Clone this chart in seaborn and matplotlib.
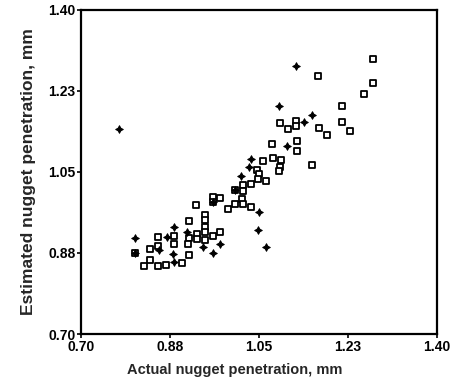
import matplotlib
matplotlib.use("Agg")
import matplotlib.pyplot as plt
import seaborn as sns
import pandas as pd

# open squares
sq_actual = [1.274, 1.166, 1.274, 1.256, 1.213, 1.213, 1.229, 1.091, 1.107, 1.123,
             1.122, 1.168, 1.183, 1.076, 1.124, 1.124, 1.154, 1.059, 1.077, 1.093,
             1.092, 1.090, 1.046, 1.050, 1.048, 1.064, 1.035, 1.018, 1.018, 1.003,
             1.017, 1.018, 1.035, 1.003, 0.989, 0.959, 0.974, 0.959, 0.927, 0.944,
             0.944, 0.944, 0.913, 0.944, 0.929, 0.974, 0.959, 0.929, 0.944, 0.913,
             0.910, 0.884, 0.884, 0.851, 0.851, 0.836, 0.912, 0.898, 0.835, 0.824,
             0.851, 0.867, 0.807]
sq_estimated = [1.295, 1.257, 1.243, 1.218, 1.193, 1.157, 1.138, 1.156, 1.143, 1.159,
                1.150, 1.144, 1.130, 1.110, 1.117, 1.096, 1.066, 1.074, 1.080, 1.076,
                1.061, 1.051, 1.054, 1.046, 1.035, 1.031, 1.023, 1.021, 1.008, 1.010,
                0.992, 0.980, 0.975, 0.981, 0.969, 0.996, 0.993, 0.985, 0.978, 0.958,
                0.947, 0.932, 0.943, 0.921, 0.917, 0.920, 0.912, 0.905, 0.902, 0.907,
                0.895, 0.912, 0.895, 0.909, 0.891, 0.884, 0.870, 0.854, 0.859, 0.846,
                0.846, 0.848, 0.874]

# filled crosses
cr_actual = [0.774, 1.123, 1.090, 1.154, 1.139, 1.105, 1.035, 1.031, 1.015, 1.003,
             1.050, 1.048, 1.064, 0.959, 0.974, 0.884, 0.807, 0.881, 0.884, 0.854,
             0.869, 0.941, 0.908, 0.807, 0.959]
cr_estimated = [1.142, 1.279, 1.193, 1.173, 1.158, 1.107, 1.079, 1.061, 1.041, 1.010,
                0.963, 0.925, 0.889, 0.874, 0.895, 0.931, 0.908, 0.872, 0.856, 0.881,
                0.909, 0.888, 0.920, 0.874, 0.985]

ticks = [0.70, 0.875, 1.05, 1.225, 1.40]
tick_labels = ["0.70", "0.88", "1.05", "1.23", "1.40"]

squares = pd.DataFrame({"actual": sq_actual, "estimated": sq_estimated})
crosses = pd.DataFrame({"actual": cr_actual, "estimated": cr_estimated})

sns.set_style("ticks")
plt.rcParams["font.family"] = ["Liberation Sans", "DejaVu Sans"]
plt.rcParams["font.weight"] = "bold"

fig = plt.figure(figsize=(4.57, 3.80), dpi=100)
ax = fig.add_axes([0.177, 0.121, 0.779, 0.853])

sns.scatterplot(data=squares, x="actual", y="estimated", ax=ax, marker="s",
                s=22, facecolor="white", edgecolor="black", linewidth=1.3,
                legend=False, zorder=3)
sns.scatterplot(data=crosses, x="actual", y="estimated", ax=ax, marker=(4, 1, 0),
                s=30, color="black", edgecolor="black", linewidth=0.7,
                legend=False, zorder=4)

ax.set_xlim(0.70, 1.40)
ax.set_ylim(0.70, 1.40)
ax.set_xticks(ticks)
ax.set_xticklabels(tick_labels)
ax.set_yticks(ticks)
ax.set_yticklabels(tick_labels)
ax.tick_params(direction="out", length=3, width=1.2, labelsize=10, pad=1,
               colors="black")
for lab in ax.get_xticklabels() + ax.get_yticklabels():
    lab.set_fontweight("bold")

for sp in ax.spines.values():
    sp.set_visible(True)
    sp.set_linewidth(1.6)
    sp.set_color("black")

ax.set_xlabel("Actual nugget penetration, mm", fontsize=10.5, fontweight="bold")
ax.xaxis.set_label_coords(0.433, -0.088)
ax.set_ylabel("Estimated nugget penetration, mm", fontsize=12.5, fontweight="bold",
              labelpad=9)

fig.savefig("out.png", dpi=100)
